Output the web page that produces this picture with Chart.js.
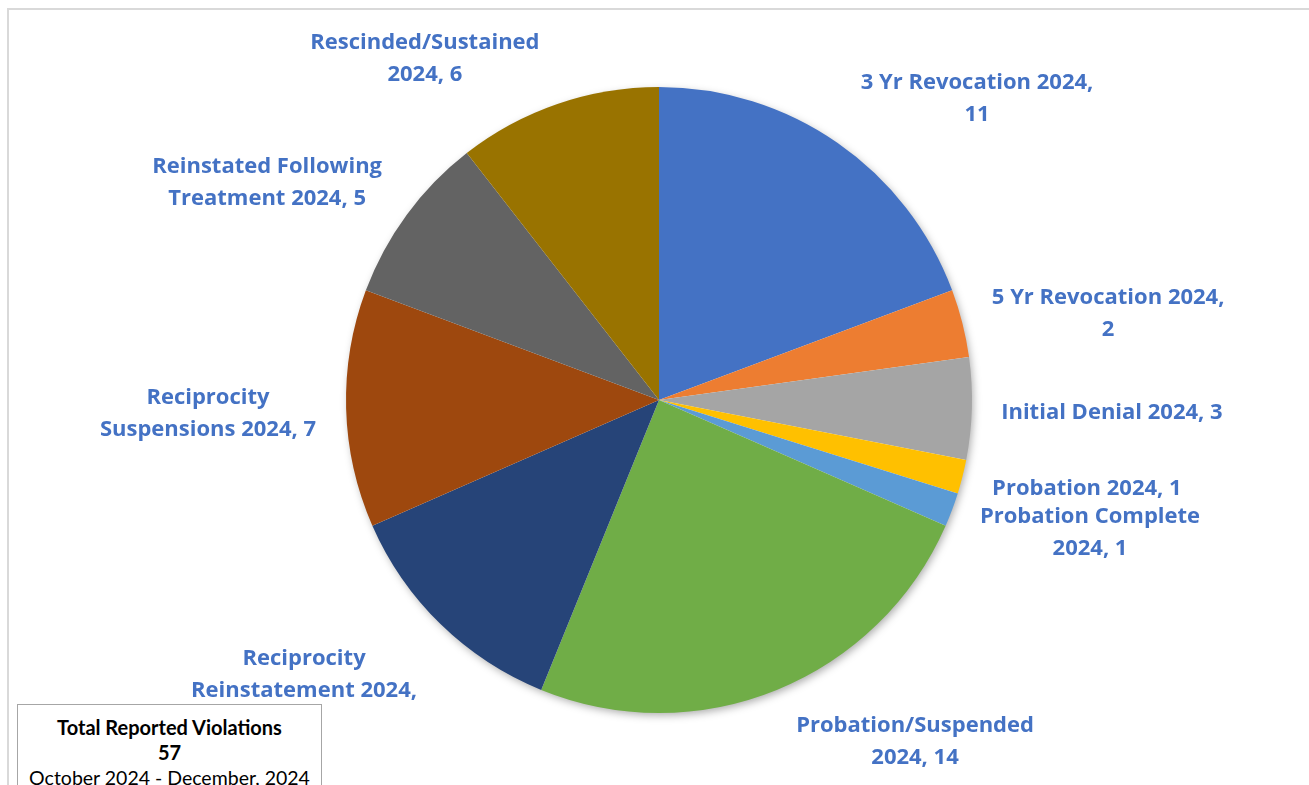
<!DOCTYPE html>
<html>
<head>
<meta charset="utf-8">
<script src="https://cdn.jsdelivr.net/npm/chart.js@4"></script>
<style>
  html, body { margin: 0; padding: 0; background: #fff; overflow: hidden; }
  #wrap { position: relative; width: 1309px; height: 785px; }
  #frame { position: absolute; left: 7px; top: 8px; width: 1320px; height: 800px; border: 2px solid #d9d9d9; box-sizing: border-box; }
  #pie { position: absolute; left: 0; top: 0; }
  #totalBox {
    position: absolute; left: 17px; top: 704px; width: 305px; height: 100px;
    border: 1.5px solid #a6a6a6; background: #fff; box-sizing: border-box;
    font-family: Lato, "Open Sans", sans-serif; font-size: 20px; color: #000;
    text-align: center; line-height: 25px; padding-top: 10px;
  }
  #totalBox b { font-weight: 700; }
  #totalBox span { font-size: 19.5px; }
</style>
</head>
<body>
<div id="wrap">
  <div id="frame"></div>
  <canvas id="pie" width="1309" height="785"></canvas>
  <div id="totalBox"></div>
</div>
<script>
// Slices, clockwise from 12 o'clock
const categories = [
    '3 Yr Revocation 2024',
    '5 Yr Revocation 2024',
    'Initial Denial 2024',
    'Probation 2024',
    'Probation Complete 2024',
    'Probation/Suspended 2024',
    'Reciprocity Reinstatement 2024',
    'Reciprocity Suspensions 2024',
    'Reinstated Following Treatment 2024',
    'Rescinded/Sustained 2024'
];
const counts = [11, 2, 3, 1, 1, 14, 7, 7, 5, 6];
const sliceColors = ['#4472C4', '#ED7D31', '#A5A5A5', '#FFC000', '#5B9BD5',
                     '#70AD47', '#264478', '#9E480E', '#636363', '#997300'];

// words per line for each data label (Excel style wrapping)
const labelBreaks = [[4, 1], [4, 1], [5], [3], [2, 2], [1, 2], [1, 2, 1], [1, 3], [2, 3], [1, 2]];
// label centre, as fractions of the radius from the pie centre
const labelAnchors = [
    [1.016, -0.962], [1.435, -0.275], [1.447, 0.041], [1.367, 0.284], [1.377, 0.425],
    [0.818, 1.092], [-1.134, 0.929], [-1.441, 0.044], [-1.252, -0.694], [-0.748, -1.090]
];

const totalTitle = 'Total Reported Violations';
const periodText = 'October 2024 - December, 2024';
const total = counts.reduce((a, b) => a + b, 0);

document.getElementById('totalBox').innerHTML =
    `<b>${totalTitle}</b><br><b>${total}</b><br><span>${periodText}</span>`;

const pieShadow = {
    id: 'pieShadow',
    beforeDatasetsDraw(chart) {
        const arc = chart.getDatasetMeta(0).data[0];
        if (!arc) return;
        const ctx = chart.ctx;
        ctx.save();
        ctx.shadowColor = 'rgba(0,0,0,0.35)';
        ctx.shadowBlur = 8;
        ctx.shadowOffsetX = 2;
        ctx.shadowOffsetY = 3;
        ctx.fillStyle = '#fff';
        ctx.beginPath();
        ctx.arc(arc.x, arc.y, arc.outerRadius - 1, 0, Math.PI * 2);
        ctx.fill();
        ctx.restore();
    }
};

const dataLabels = {
    id: 'dataLabels',
    afterDatasetsDraw(chart) {
        const meta = chart.getDatasetMeta(0);
        const ctx = chart.ctx;
        ctx.save();
        ctx.font = 'bold 22px "Open Sans", Lato, sans-serif';
        ctx.fillStyle = '#4472C4';
        ctx.textAlign = 'center';
        ctx.textBaseline = 'middle';
        const lineH = 32;
        meta.data.forEach((arc, i) => {
            const words = `${categories[i]}, ${counts[i]}`.split(' ');
            const lines = [];
            let k = 0;
            labelBreaks[i].forEach(n => { lines.push(words.slice(k, k + n).join(' ')); k += n; });
            const cx = arc.x + labelAnchors[i][0] * arc.outerRadius;
            const cy = arc.y + labelAnchors[i][1] * arc.outerRadius;
            const y0 = cy - (lines.length - 1) * lineH / 2;
            lines.forEach((ln, j) => ctx.fillText(ln, cx, y0 + j * lineH));
        });
        ctx.restore();
    }
};

new Chart(document.getElementById('pie'), {
    type: 'pie',
    data: {
        labels: categories,
        datasets: [{
            data: counts,
            backgroundColor: sliceColors,
            borderWidth: 0
        }]
    },
    options: {
        responsive: false,
        animation: false,
        layout: { padding: { left: 346, right: 337, top: 87, bottom: 72 } },
        plugins: {
            legend: { display: false },
            tooltip: { enabled: false }
        }
    },
    plugins: [pieShadow, dataLabels]
});
</script>
</body>
</html>
